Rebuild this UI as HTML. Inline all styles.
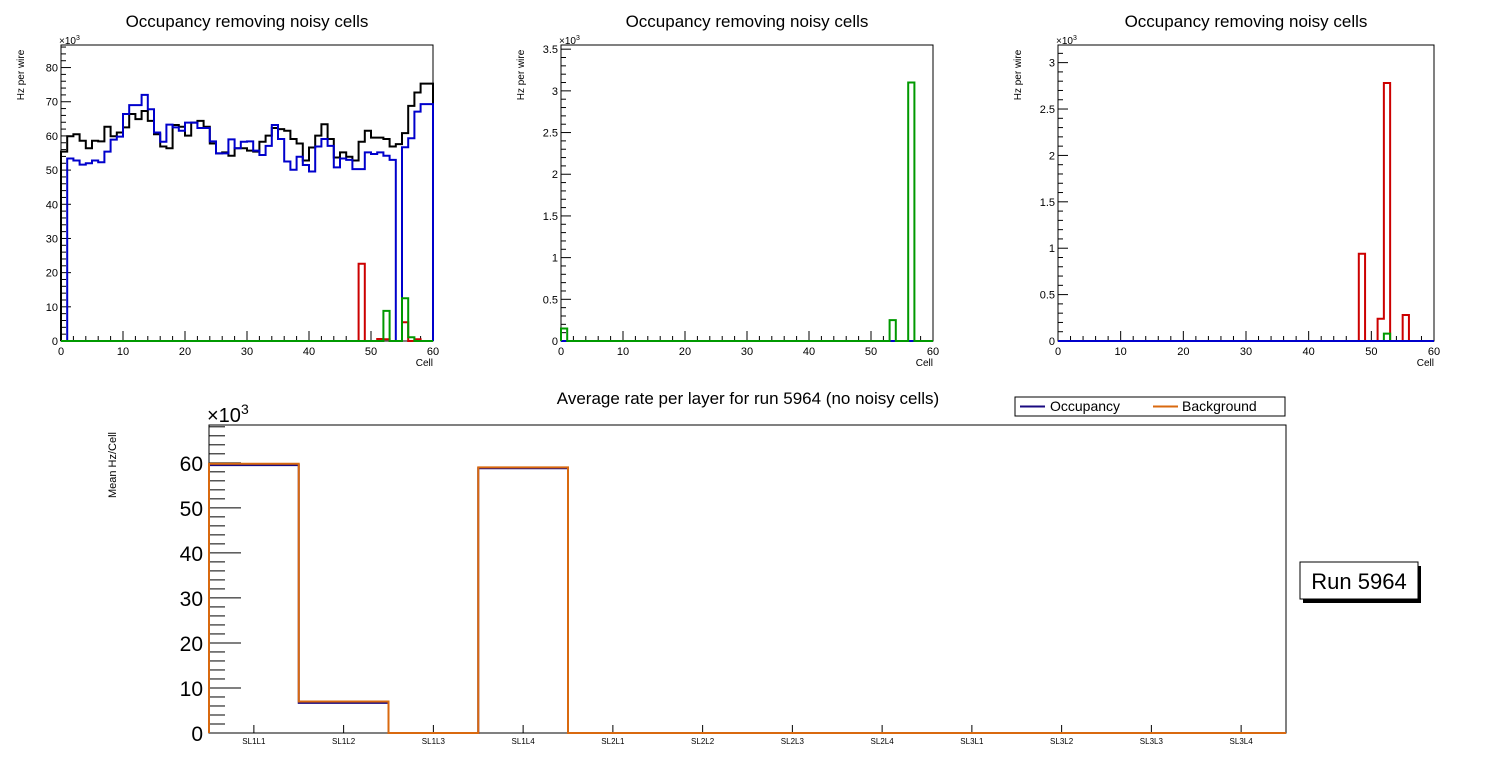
<!DOCTYPE html>
<html><head><meta charset="utf-8"><style>
html,body{margin:0;padding:0;background:#fff;}
svg{display:block;font-family:"Liberation Sans",sans-serif;}
</style></head><body>
<svg id="c" width="1496" height="772" xmlns="http://www.w3.org/2000/svg"></svg>
<script>
// Panel 1 data (x10^3 Hz)
const p1Black=[55.4,59.9,60.5,58.6,56.4,58.6,58.4,62.7,59.9,61.0,62.5,66.4,64.9,67.3,64.4,60.5,56.9,56.4,63.2,62.7,60.1,63.9,64.4,62.7,57.8,54.9,55.2,54.2,56.4,56.4,55.7,55.4,58.3,60.1,62.3,62.0,61.5,59.1,57.8,52.8,56.6,60.1,63.4,59.1,53.7,55.2,53.9,52.8,58.3,61.5,59.5,59.5,59.1,56.9,57.6,60.8,68.8,72.7,75.3,75.3];
const p1Blue=[0,53.4,52.8,51.6,52.0,52.8,52.3,55.4,58.9,59.8,66.4,69.0,69.0,72.0,67.8,61.0,58.3,63.3,62.5,61.5,63.9,63.9,62.3,62.3,58.4,54.9,54.9,59.0,56.4,58.3,58.4,55.7,54.4,57.1,63.2,59.1,52.5,50.1,53.9,51.5,49.6,56.9,59.1,57.1,50.8,53.4,53.0,50.3,50.3,55.2,54.7,55.2,54.2,53.0,0,56.7,59.3,67.1,69.3,69.3];
const p1Red={48:22.6,51:0.6,52:0.5,55:5.5,57:0.5};
const p1Green={52:8.8,55:12.5,56:1.1};
// Panel 2 data
const p2Green={0:0.15,53:0.25,56:3.1};
// Panel 3 data
const p3Red={48:0.94,51:0.24,52:2.78,55:0.28};
const p3Green={52:0.08};
// Bottom chart
const layers=["SL1L1","SL1L2","SL1L3","SL1L4","SL2L1","SL2L2","SL2L3","SL2L4","SL3L1","SL3L2","SL3L3","SL3L4"];
const occupancy=[59.5,6.7,0,58.8,0,0,0,0,0,0,0,0];
const background=[59.8,7.0,0,59.0,0,0,0,0,0,0,0,0];
const p1Ticks=[0,10,20,30,40,50,60,70,80];
const p2Ticks=[0,0.5,1,1.5,2,2.5,3,3.5];
const p3Ticks=[0,0.5,1,1.5,2,2.5,3];
const xTicks=[0,10,20,30,40,50,60];
const botTicks=[0,10,20,30,40,50,60];

const svg=document.getElementById('c');
const NS='http://www.w3.org/2000/svg';
function el(tag,attrs,parent){const e=document.createElementNS(NS,tag);for(const k in attrs)e.setAttribute(k,attrs[k]);(parent||svg).appendChild(e);return e;}
function txt(s,x,y,size,anchor,parent,name){const t=el('text',{x:x,y:y,'font-size':size,'text-anchor':anchor||'start',fill:'#000'},parent);t.textContent=s;


return t;}

function vals(arr,n){const v=[];for(let i=0;i<n;i++)v.push(Array.isArray(arr)?arr[i]:(arr[i]||0));return v;}
function stepPath(v,X,Y){let d='M'+X(0)+','+Y(0);for(let i=0;i<v.length;i++){d+=' L'+X(i)+','+Y(v[i])+' L'+X(i+1)+','+Y(v[i]);}d+=' L'+X(v.length)+','+Y(0);return d;}

function panel(name,x0,x1,y0,y1,ymax,yt,minorStep,series){
  const g=el('g',{});
  
  
  const X=i=>x0+(x1-x0)*i/60, Y=v=>y0-(y0-y1)*v/ymax;
  el('rect',{x:x0,y:y1,width:x1-x0,height:y0-y1,fill:'none',stroke:'#000','stroke-width':1},g);
  txt('Occupancy removing noisy cells',(x0+x1)/2,27,17,'middle',g,'panel-title');
  const yl=txt('Hz per wire',0,0,10,'middle',g,'y-axis-title');yl.setAttribute('transform','translate('+(x0-37)+','+(y1+30)+') rotate(-90)');
  txt('Cell',x1,366,10,'end',g,'x-axis-title');
  const e=txt('\u00d710',x0-2,y1-1,10,'start',g,'exponent');const s=el('tspan',{dy:-4,'font-size':7},e);s.textContent='3';
  for(let v=0;v<=ymax+1e-9;v+=minorStep){const isM=yt.some(t=>Math.abs(t-v)<1e-6);el('line',{x1:x0,x2:x0+(isM?10:5),y1:Y(v),y2:Y(v),stroke:'#000'},g);}
  yt.forEach(t=>txt(String(t),x0-3,Y(t)+4,11,'end',g,'y-tick-label'));
  for(let i=0;i<=60;i+=2){const isM=i%10==0;el('line',{x1:X(i),x2:X(i),y1:y0,y2:y0-(isM?10:5),stroke:'#000'},g);}
  xTicks.forEach(t=>txt(String(t),X(t),y0+14,11,'middle',g,'x-tick-label'));
  series.forEach(sr=>{const p=el('path',{d:stepPath(vals(sr.d,60),X,Y),fill:'none',stroke:sr.c,'stroke-width':2},g);
    
    });
}
panel('panel-1',61,433,341,45,86.6,p1Ticks,2,[{d:p1Black,c:'#000',n:'series-black'},{d:p1Blue,c:'#0000cc',n:'series-blue'},{d:p1Red,c:'#cc0000',n:'series-red'},{d:p1Green,c:'#009900',n:'series-green'}]);
panel('panel-2',561,933,341,45,3.55,p2Ticks,0.1,[{d:{},c:'#0000cc',n:'series-blue'},{d:p2Green,c:'#009900',n:'series-green'}]);
panel('panel-3',1058,1434,341,45,3.19,p3Ticks,0.1,[{d:p3Red,c:'#cc0000',n:'series-red'},{d:p3Green,c:'#009900',n:'series-green'},{d:{},c:'#0000cc',n:'series-blue'}]);

// bottom
(function(){
  const x0=209,x1=1286,y0=733,y1=425,ymax=68.4;
  const g=el('g',{});
  
  
  const bw=(x1-x0)/layers.length;
  const X=i=>x0+bw*i, Y=v=>y0-(y0-y1)*v/ymax;
  el('rect',{x:x0,y:y1,width:x1-x0,height:y0-y1,fill:'none',stroke:'#000'},g);
  txt('Average rate per layer for run 5964 (no noisy cells)',748,404,17,'middle',g,'chart-title');
  const yl=txt('Mean Hz/Cell',0,0,11,'middle',g,'y-axis-title');yl.setAttribute('transform','translate(116,465) rotate(-90)');
  const e=txt('\u00d710',207,422,20,'start',g,'exponent');const s=el('tspan',{dy:-8,'font-size':14},e);s.textContent='3';
  for(let v=0;v<=ymax;v+=2){const isM=v%10==0;el('line',{x1:x0,x2:x0+(isM?32:16),y1:Y(v),y2:Y(v),stroke:'#000'},g);}
  botTicks.forEach(t=>txt(String(t),x0-6,Y(t)+8,21,'end',g,'y-tick-label'));
  layers.forEach((l,i)=>{el('line',{x1:X(i+0.5),x2:X(i+0.5),y1:y0,y2:y0-8,stroke:'#000'},g);txt(l,X(i+0.5),744,8,'middle',g,'x-tick-label');});
  const p1=el('path',{d:stepPath(occupancy,X,Y),fill:'none',stroke:'#1a0a80','stroke-width':2},g);
  
  
  const p2=el('path',{d:stepPath(background,X,Y),fill:'none',stroke:'#d9690f','stroke-width':2},g);
  
  
  const lg=el('g',{},g);
  
  
  el('rect',{x:1015,y:397,width:270,height:19,fill:'#fff',stroke:'#000'},lg);
  el('line',{x1:1020,x2:1045,y1:406.5,y2:406.5,stroke:'#1a0a80','stroke-width':2},lg);
  txt('Occupancy',1050,411,14,'start',lg,'legend-entry-occupancy');
  el('line',{x1:1153,x2:1178,y1:406.5,y2:406.5,stroke:'#d9690f','stroke-width':2},lg);
  txt('Background',1182,411,14,'start',lg,'legend-entry-background');
  const rb=el('g',{},g);
  
  
  el('rect',{x:1303,y:566,width:118,height:37,fill:'#000'},rb);
  el('rect',{x:1300,y:562,width:118,height:37,fill:'#fff',stroke:'#000'},rb);
  txt('Run 5964',1359,589,22,'middle',rb,'run-text');
})();
</script>
</body></html>
